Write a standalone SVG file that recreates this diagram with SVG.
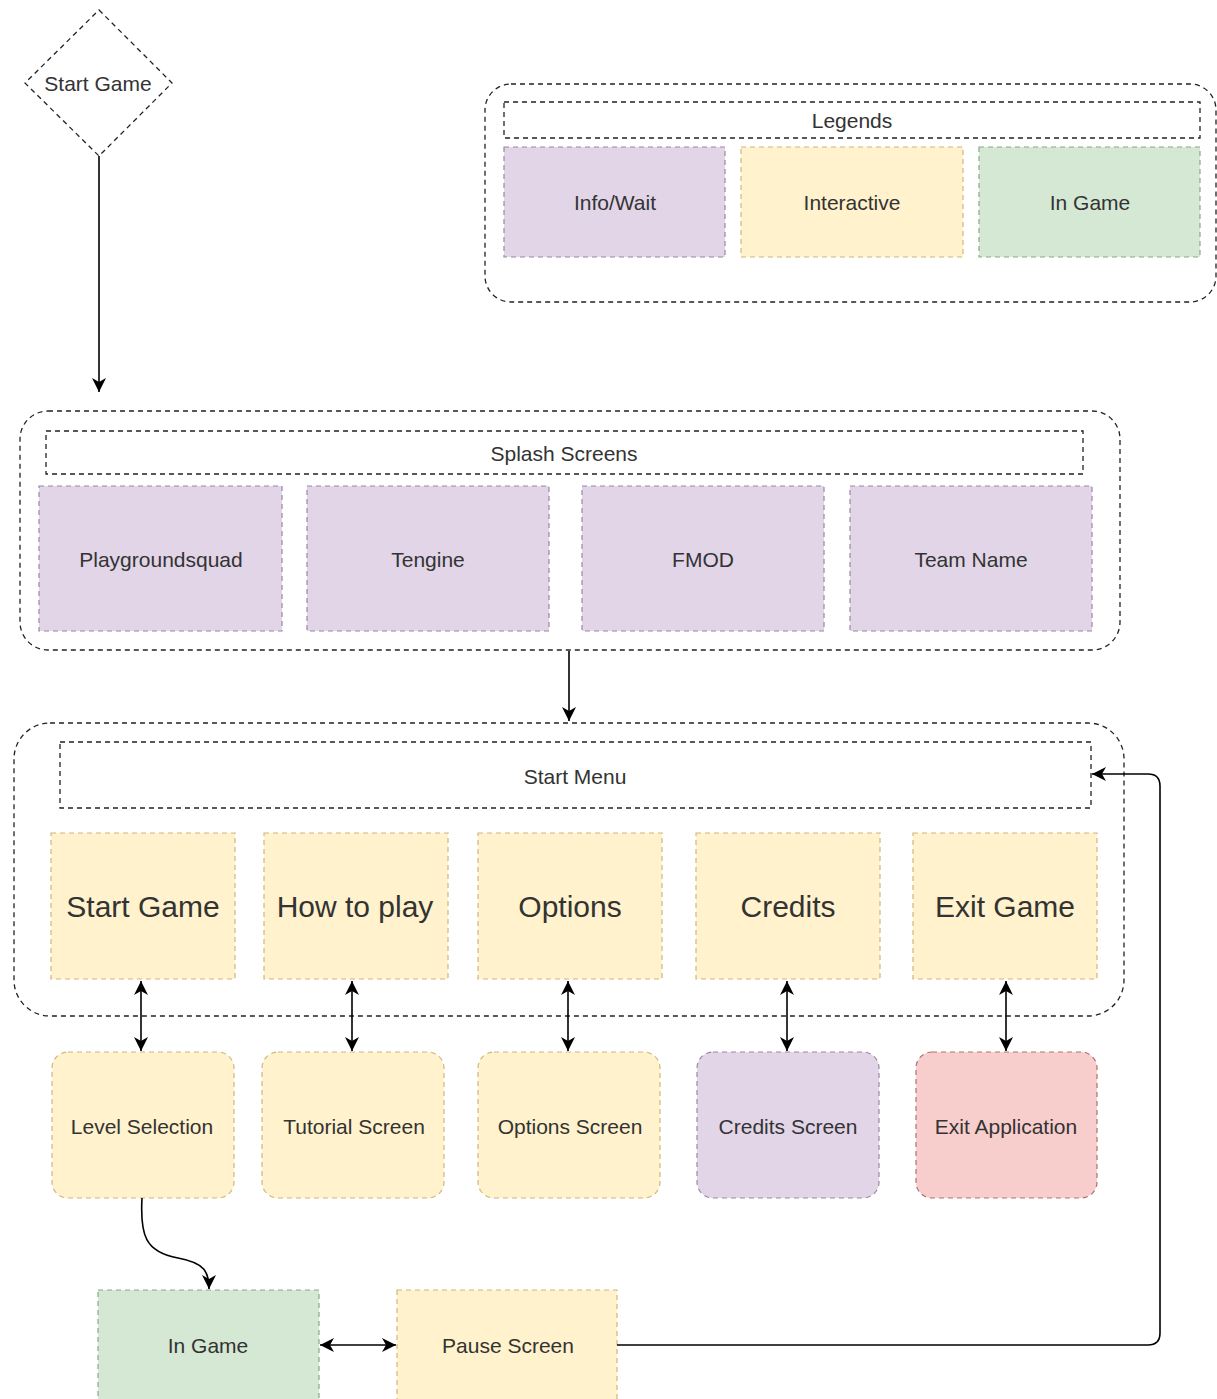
<svg xmlns="http://www.w3.org/2000/svg" width="1217" height="1399" viewBox="0 0 1217 1399">
<defs>
<marker id="arr" markerUnits="userSpaceOnUse" markerWidth="16" markerHeight="14" refX="14" refY="7" orient="auto-start-reverse" viewBox="0 0 16 14">
<path d="M0,0 L14,7 L0,14 L4,7 Z" fill="#000"/>
</marker>
</defs>
<style>
text{font-family:"Liberation Sans",Arial,sans-serif;fill:#333;text-anchor:middle;dominant-baseline:central;font-size:21px}
.big{font-size:30px}
.cont{fill:none;stroke:#222;stroke-width:1.3;stroke-dasharray:5 4}
.hdr{fill:#fff;stroke:#222;stroke-width:1.3;stroke-dasharray:5 4}
.pur{fill:#e1d5e7;stroke:#9a88a4;stroke-width:1.2;stroke-dasharray:5 4}
.yel{fill:#fff2cc;stroke:#cdb87a;stroke-width:1.2;stroke-dasharray:5 4}
.grn{fill:#d5e8d4;stroke:#8aa886;stroke-width:1.2;stroke-dasharray:5 4}
.red{fill:#f8cecc;stroke:#b07070;stroke-width:1.2;stroke-dasharray:5 4}
.edge{fill:none;stroke:#000;stroke-width:1.6}
</style>
<rect width="1217" height="1399" fill="#fff"/>

<g id="start">
<polygon points="99,10 172,83 99,156 25,83" fill="#fff" stroke="#222" stroke-width="1.3" stroke-dasharray="5 4"/>
<text x="98" y="83">Start Game</text>
</g>

<g id="legends">
<rect class="cont" x="485" y="84" width="731" height="218" rx="26"/>
<rect class="hdr" x="504" y="102" width="696" height="36"/>
<text x="852" y="120">Legends</text>
</g>
<g id="leg-info"><rect class="pur" x="504" y="147" width="221" height="110"/><text x="615" y="202">Info/Wait</text></g>
<g id="leg-inter"><rect class="yel" x="741" y="147" width="222" height="110"/><text x="852" y="202">Interactive</text></g>
<g id="leg-ingame"><rect class="grn" x="979" y="147" width="221" height="110"/><text x="1090" y="202">In Game</text></g>

<g id="splash">
<rect class="cont" x="20" y="411" width="1100" height="239" rx="28"/>
<rect class="hdr" x="46" y="431" width="1037" height="43"/>
<text x="564" y="453">Splash Screens</text>
</g>
<g id="s-pgs"><rect class="pur" x="39" y="486" width="243" height="145"/><text x="161" y="559">Playgroundsquad</text></g>
<g id="s-teng"><rect class="pur" x="307" y="486" width="242" height="145"/><text x="428" y="559">Tengine</text></g>
<g id="s-fmod"><rect class="pur" x="582" y="486" width="242" height="145"/><text x="703" y="559">FMOD</text></g>
<g id="s-team"><rect class="pur" x="850" y="486" width="242" height="145"/><text x="971" y="559">Team Name</text></g>

<g id="startmenu">
<rect class="cont" x="14" y="723" width="1110" height="293" rx="36"/>
<rect class="hdr" x="60" y="742" width="1031" height="66"/>
<text x="575" y="776">Start Menu</text>
</g>
<g id="m-start"><rect class="yel" x="51" y="833" width="184" height="146"/><text class="big" x="143" y="906">Start Game</text></g>
<g id="m-how"><rect class="yel" x="264" y="833" width="184" height="146"/><text class="big" x="355" y="906">How to play</text></g>
<g id="m-opt"><rect class="yel" x="478" y="833" width="184" height="146"/><text class="big" x="570" y="906">Options</text></g>
<g id="m-cred"><rect class="yel" x="696" y="833" width="184" height="146"/><text class="big" x="788" y="906">Credits</text></g>
<g id="m-exit"><rect class="yel" x="913" y="833" width="184" height="146"/><text class="big" x="1005" y="906">Exit Game</text></g>

<g id="level"><rect class="yel" x="52" y="1052" width="182" height="146" rx="16"/><text x="142" y="1126">Level Selection</text></g>
<g id="tutorial"><rect class="yel" x="262" y="1052" width="182" height="146" rx="16"/><text x="354" y="1126">Tutorial Screen</text></g>
<g id="optscreen"><rect class="yel" x="478" y="1052" width="182" height="146" rx="16"/><text x="570" y="1126">Options Screen</text></g>
<g id="credscreen"><rect class="pur" x="697" y="1052" width="182" height="146" rx="16"/><text x="788" y="1126">Credits Screen</text></g>
<g id="exitapp"><rect class="red" x="916" y="1052" width="181" height="146" rx="16"/><text x="1006" y="1126">Exit Application</text></g>

<g id="ingame"><rect class="grn" x="98" y="1290" width="221" height="120"/><text x="208" y="1345">In Game</text></g>
<g id="pause"><rect class="yel" x="397" y="1290" width="220" height="120"/><text x="508" y="1345">Pause Screen</text></g>

<g id="connectors">
<path class="edge" d="M99,156 L99,392" marker-end="url(#arr)"/>
<path class="edge" d="M569,651 L569,721" marker-end="url(#arr)"/>
<path class="edge" d="M141,981 L141,1051" marker-start="url(#arr)" marker-end="url(#arr)"/>
<path class="edge" d="M352,981 L352,1051" marker-start="url(#arr)" marker-end="url(#arr)"/>
<path class="edge" d="M568,981 L568,1051" marker-start="url(#arr)" marker-end="url(#arr)"/>
<path class="edge" d="M787,981 L787,1051" marker-start="url(#arr)" marker-end="url(#arr)"/>
<path class="edge" d="M1006,981 L1006,1051" marker-start="url(#arr)" marker-end="url(#arr)"/>
<path class="edge" d="M142,1198 C140,1235 145,1252 178,1258 C205,1263 209,1272 209,1289" marker-end="url(#arr)"/>
<path class="edge" d="M320,1345 L396,1345" marker-start="url(#arr)" marker-end="url(#arr)"/>
<path class="edge" d="M617,1345 L1148,1345 Q1160,1345 1160,1333 L1160,786 Q1160,774 1148,774 L1092,774" marker-end="url(#arr)"/>
</g>
</svg>
